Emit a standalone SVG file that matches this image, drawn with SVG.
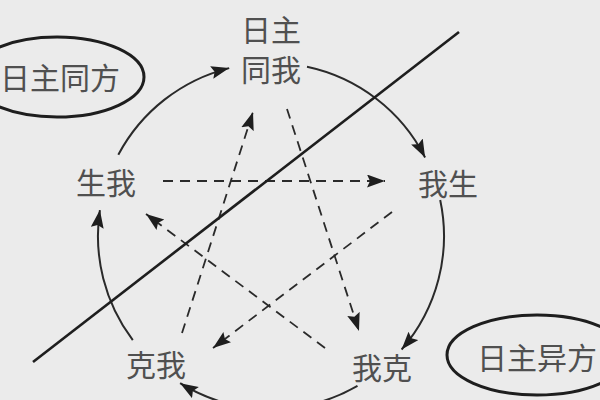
<svg xmlns="http://www.w3.org/2000/svg" width="600" height="400" viewBox="0 0 600 400">
<style>
.t{font-family:"Noto Sans CJK SC","Noto Sans CJK JP",sans-serif;font-size:30px;fill:#505050;text-anchor:middle}
.arc{fill:none;stroke:#2a2a2a;stroke-width:2}
.dash{fill:none;stroke:#2a2a2a;stroke-width:1.8;stroke-dasharray:10 7}
.ell{fill:none;stroke:#1e1e1e;stroke-width:3}
</style>
<defs>
<marker id="ah" markerUnits="userSpaceOnUse" markerWidth="20" markerHeight="14" refX="18" refY="6.5" orient="auto">
<path d="M0,0 L18,6.5 L0,13 L3,6.5 Z" fill="#1e1e1e"/>
</marker>
</defs>
<rect width="600" height="400" fill="#ebebeb"/>
<g id="connectors">
<path class="arc" d="M118.3,154.8 A173,173 0 0,1 229.2,68.1" marker-end="url(#ah)"/>
<path class="arc" d="M307,66.8 A173,173 0 0,1 425.1,157.5" marker-end="url(#ah)"/>
<path class="arc" d="M440.2,200 A173,173 0 0,1 401.6,349.5" marker-end="url(#ah)"/>
<path class="arc" d="M357.5,385.8 A173,173 0 0,1 180.1,383.2" marker-end="url(#ah)"/>
<path class="arc" d="M132.8,340.1 A173,173 0 0,1 99.9,210.1" marker-end="url(#ah)"/>
<path class="dash" d="M182,333 L253,112" marker-end="url(#ah)"/>
<path class="dash" d="M287,109 L359,331" marker-end="url(#ah)"/>
<path class="dash" d="M163,181 L385,181" marker-end="url(#ah)"/>
<path class="dash" d="M392,212 L213,348" marker-end="url(#ah)"/>
<path class="dash" d="M325,348 L146,214" marker-end="url(#ah)"/>
<path d="M33,362 L459,32" fill="none" stroke="#1e1e1e" stroke-width="2.6"/>
</g>
<g id="node-tongwo">
<text class="t" x="271" y="41.4">日主</text>
<text class="t" x="271" y="81.4">同我</text>
</g>
<g id="node-shengwo"><text class="t" x="106" y="194.4">生我</text></g>
<g id="node-wosheng"><text class="t" x="448" y="195">我生</text></g>
<g id="node-kewo"><text class="t" x="156" y="376">克我</text></g>
<g id="node-woke"><text class="t" x="382" y="378.5">我克</text></g>
<g id="node-tongfang">
<ellipse class="ell" cx="57" cy="77" rx="87" ry="40"/>
<text class="t" x="60" y="88.5">日主同方</text>
</g>
<g id="node-yifang">
<ellipse class="ell" cx="537" cy="355" rx="90" ry="40"/>
<text class="t" x="537" y="368.5">日主异方</text>
</g>
</svg>
